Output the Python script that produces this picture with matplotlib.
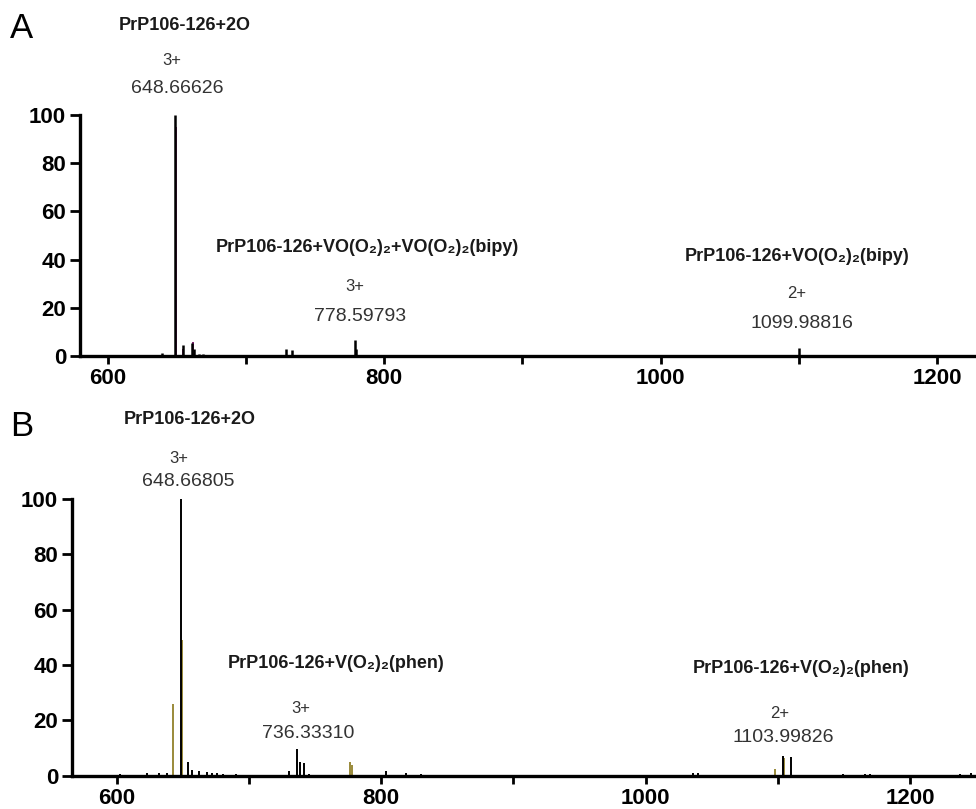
import matplotlib
matplotlib.use("Agg")
import matplotlib.pyplot as plt
from matplotlib.ticker import MultipleLocator, FuncFormatter

plt.rcParams['font.family'] = ['Liberation Sans', 'DejaVu Sans']

# Spectrum A: PrP106-126 + VO(O2)2(bipy)
mz_a = [624.5, 639.0, 648.66626, 654.3, 661.0, 662.2, 666.0, 669.0, 672.0, 676.0,
        729.0, 733.0, 778.59793, 779.4, 1099.98816]
int_a = [0.5, 1.2, 100, 4.5, 5.5, 3.0, 0.8, 0.8, 0.6, 0.6,
         3.0, 2.5, 6.5, 3.0, 3.5]
mz_a2 = [649.3, 649.6, 654.6, 661.4]
int_a2 = [95, 25, 3.0, 5.8]

# Spectrum B: PrP106-126 + V(O2)2(phen)
mz_b = [602, 623, 632, 638, 648.66805, 654, 657, 662, 668, 672, 676, 680, 690,
        730, 736.33310, 738.8, 741.3, 745, 803.9, 819, 830,
        1036, 1040, 1103.99826, 1110, 1149, 1166, 1170, 1238, 1246]
int_b = [0.5, 1.0, 0.8, 0.8, 100, 4.8, 2.0, 1.5, 1.2, 1.0, 0.8, 0.6, 0.4,
         1.5, 9.6, 5.0, 4.5, 0.5, 1.5, 1.0, 0.5,
         1.0, 0.8, 7.0, 6.6, 0.6, 0.7, 0.5, 0.5, 0.8]
mz_b2 = [642.3, 649.2, 776.4, 778.0, 1097.6, 1104.4]
int_b2 = [26, 49, 4.8, 4.0, 2.5, 6.5]

# annotations: (species, charge, m/z)
labels_a = [("PrP106-126+2O", "3+", "648.66626"),
            ("PrP106-126+VO(O\u2082)\u2082+VO(O\u2082)\u2082(bipy)", "3+", "778.59793"),
            ("PrP106-126+VO(O\u2082)\u2082(bipy)", "2+", "1099.98816")]
labels_b = [("PrP106-126+2O", "3+", "648.66805"),
            ("PrP106-126+V(O\u2082)\u2082(phen)", "3+", "736.33310"),
            ("PrP106-126+V(O\u2082)\u2082(phen)", "2+", "1103.99826")]


def style_axis(ax, xlim):
    ax.set_xlim(*xlim)
    ax.set_ylim(0, 100)
    for s in ['top', 'right']:
        ax.spines[s].set_visible(False)
    for s in ['left', 'bottom']:
        ax.spines[s].set_linewidth(2.4)
    ax.xaxis.set_major_locator(MultipleLocator(100))
    ax.xaxis.set_major_formatter(FuncFormatter(lambda v, p: f"{v:.0f}" if v % 200 == 0 else ""))
    ax.yaxis.set_major_locator(MultipleLocator(20))
    ax.tick_params(axis='both', width=2.0, labelsize=16)
    ax.tick_params(axis='x', length=6, pad=3)
    ax.tick_params(axis='y', length=7, pad=3)
    for lab in ax.get_xticklabels() + ax.get_yticklabels():
        lab.set_fontweight('bold')


fig = plt.figure(figsize=(9.76, 8.09), dpi=100)

axA = fig.add_axes([80 / 976, 1 - 356 / 809, 1 - 80 / 976, 241 / 809])
axA.vlines(mz_a2, 0, int_a2, color='#7a1f6b', lw=1.4)
axA.vlines(mz_a, 0, int_a, color='black', lw=1.8)
style_axis(axA, (580, 1228))

axB = fig.add_axes([72 / 976, 1 - 775.6 / 809, 1 - 72 / 976, 276.6 / 809])
axB.vlines(mz_b2, 0, int_b2, color='#9a8a3a', lw=1.4)
axB.vlines(mz_b, 0, int_b, color='black', lw=1.4)
style_axis(axB, (566, 1250))

txt_kw = dict(ha='center', va='center', clip_on=False)

# panel A labels (x, y in data units)
pos_a = [((655.9, 137.3), (646.5, 122.8), (650.2, 111.2)),
         ((787.6, 45.2), (778.9, 29.0), (782.5, 16.2)),
         ((1098.6, 41.1), (1098.6, 26.1), (1102.2, 13.3))]
for (name, charge, mz), (p1, p2, p3) in zip(labels_a, pos_a):
    axA.text(*p1, name, fontsize=13, fontweight='bold', color='#1a1a1a', **txt_kw)
    axA.text(*p2, charge, fontsize=12, color='#333333', **txt_kw)
    axA.text(*p3, mz, fontsize=14, color='#333333', **txt_kw)

pos_b = [((655.3, 128.6), (646.7, 114.8), (653.6, 106.2)),
         ((765.8, 40.7), (739.3, 24.4), (744.6, 15.4)),
         ((1117.6, 38.9), (1101.7, 22.6), (1104.0, 13.6))]
for (name, charge, mz), (p1, p2, p3) in zip(labels_b, pos_b):
    axB.text(*p1, name, fontsize=13, fontweight='bold', color='#1a1a1a', **txt_kw)
    axB.text(*p2, charge, fontsize=12, color='#333333', **txt_kw)
    axB.text(*p3, mz, fontsize=14, color='#333333', **txt_kw)

fig.text(22 / 976, 1 - 28 / 809, "A", fontsize=25, ha='center', va='center')
fig.text(22 / 976, 1 - 426 / 809, "B", fontsize=25, ha='center', va='center')

fig.savefig("out.png", dpi=100)
